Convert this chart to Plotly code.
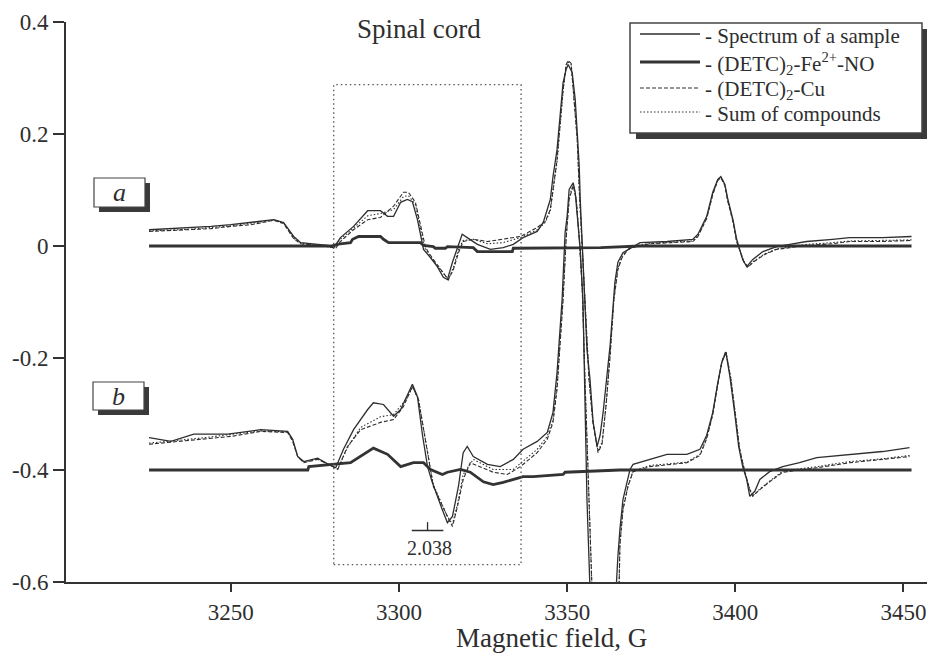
import plotly.graph_objects as go

# ---------------- data ----------------
# Panel a (baseline 0)
spec_a_x = [3225.7, 3232.2, 3238.1, 3244.1, 3250.0, 3255.9, 3259.5, 3262.8, 3265.7, 3267.2, 3268.7, 3270.8,
            3275.2, 3278.8, 3280.6, 3282.6, 3286.5, 3290.7, 3294.5, 3296.6, 3298.4, 3300.5, 3302.5, 3304.0,
            3305.5, 3306.4, 3307.3, 3309.4, 3311.4, 3313.2, 3314.4, 3315.9, 3317.4, 3318.8, 3320.3, 3323.3,
            3327.2, 3331.0, 3334.0, 3336.9, 3341.1, 3342.9, 3345.0, 3345.8, 3347.0, 3347.9, 3348.8, 3349.7,
            3350.3, 3351.5, 3352.4, 3353.0, 3353.6, 3353.9, 3354.5, 3355.3, 3355.9, 3356.8, 3357.7, 3358.9,
            3359.8, 3360.7, 3361.9, 3362.8, 3364.2, 3365.1, 3366.6, 3369.6, 3371.7, 3379.7, 3387.4, 3388.9,
            3391.5, 3393.3, 3394.8, 3395.7, 3396.9, 3397.8, 3399.3, 3400.4, 3401.0, 3402.2, 3403.4, 3405.2,
            3408.2, 3412.3, 3416.2, 3421.2, 3428.9, 3434.0, 3443.8, 3450.9, 3452.4]
spec_a_y = [0.029, 0.031, 0.033, 0.035, 0.038, 0.042, 0.044, 0.047, 0.042, 0.029, 0.017, 0.006,
            0.003, 0.001, -0.003, 0.015, 0.035, 0.063, 0.063, 0.053, 0.053, 0.078, 0.083, 0.079,
            0.047, 0.017, -0.006, -0.021, -0.037, -0.056, -0.060, -0.029, -0.001, 0.021, 0.015, 0.003,
            -0.006, -0.003, 0.003, 0.015, 0.026, 0.042, 0.083, 0.124, 0.172, 0.231, 0.292, 0.315,
            0.324, 0.310, 0.262, 0.203, 0.142, 0.083, -0.003, -0.096, -0.185, -0.238, -0.313, -0.358,
            -0.338, -0.297, -0.226, -0.176, -0.065, -0.029, -0.012, -0.001, 0.006, 0.008, 0.012, 0.021,
            0.053, 0.096, 0.119, 0.124, 0.110, 0.083, 0.047, 0.012, -0.001, -0.024, -0.037, -0.024,
            -0.010, -0.001, 0.003, 0.008, 0.012, 0.015, 0.015, 0.017, 0.017]

fe_a_x = [3225.7, 3279.7, 3282.6, 3285.6, 3286.2, 3288.0, 3294.5, 3295.4, 3296.9, 3306.4, 3307.3, 3310.2,
          3310.8, 3313.8, 3314.4, 3322.1, 3323.3, 3333.7, 3334.0, 3347.9, 3360.0, 3371.7, 3452.4]
fe_a_y = [0.0, 0.0, 0.004, 0.006, 0.012, 0.017, 0.017, 0.012, 0.006, 0.006, 0.001, -0.001,
          -0.004, -0.004, -0.001, -0.003, -0.010, -0.010, -0.004, -0.004, -0.003, 0.0, 0.0]

cu_a_x = [3225.7, 3232.2, 3238.1, 3244.1, 3250.0, 3255.9, 3259.5, 3262.8, 3265.7, 3267.2, 3268.7, 3270.8,
          3275.2, 3278.8, 3281.2, 3282.6, 3286.5, 3290.7, 3294.5, 3298.4, 3301.3, 3302.8, 3304.9, 3306.4,
          3307.9, 3310.2, 3313.2, 3314.7, 3316.2, 3317.7, 3319.1, 3322.1, 3326.3, 3331.0, 3336.1, 3341.1,
          3343.5, 3345.0, 3345.8, 3347.0, 3347.9, 3348.8, 3349.7, 3350.3, 3351.2, 3352.1, 3353.0, 3353.6,
          3354.5, 3355.3, 3356.5, 3357.7, 3359.2, 3360.4, 3361.6, 3362.8, 3363.9, 3365.1, 3366.3, 3368.1,
          3370.5, 3374.6, 3387.4, 3388.9, 3391.5, 3393.3, 3394.8, 3395.7, 3396.9, 3397.8, 3399.3, 3400.4,
          3401.3, 3402.5, 3403.7, 3405.5, 3408.8, 3412.3, 3416.2, 3421.2, 3428.9, 3434.0, 3443.8, 3450.9,
          3452.4]
cu_a_y = [0.026, 0.028, 0.029, 0.031, 0.035, 0.038, 0.042, 0.046, 0.040, 0.026, 0.013, 0.004,
          0.001, -0.001, -0.004, 0.008, 0.029, 0.047, 0.051, 0.071, 0.096, 0.096, 0.078, 0.035,
          -0.003, -0.024, -0.047, -0.060, -0.042, -0.012, 0.008, 0.012, 0.008, 0.012, 0.017, 0.033,
          0.044, 0.065, 0.101, 0.154, 0.217, 0.279, 0.324, 0.331, 0.326, 0.262, 0.190, 0.101,
          -0.003, -0.113, -0.238, -0.317, -0.369, -0.353, -0.283, -0.194, -0.096, -0.042, -0.021, -0.006,
          -0.001, 0.004, 0.008, 0.017, 0.049, 0.092, 0.117, 0.122, 0.108, 0.079, 0.044, 0.008,
          -0.006, -0.028, -0.038, -0.028, -0.015, -0.006, -0.003, 0.001, 0.004, 0.008, 0.008, 0.010,
          0.010]

sum_a_x = [3225.7, 3238.1, 3250.0, 3259.5, 3262.8, 3265.7, 3267.2, 3268.7, 3270.8, 3275.2, 3280.6, 3282.6,
           3286.5, 3290.7, 3294.5, 3298.4, 3301.3, 3302.8, 3304.9, 3306.4, 3307.6, 3309.9, 3313.2, 3314.7,
           3316.2, 3317.7, 3319.1, 3322.1, 3326.3, 3331.0, 3336.1, 3341.1, 3343.5, 3345.0, 3345.8, 3347.0,
           3347.9, 3348.8, 3349.7, 3350.3, 3351.2, 3352.1, 3353.0, 3353.6, 3354.5, 3355.3, 3356.5, 3357.7,
           3359.2, 3360.4, 3361.6, 3362.8, 3363.9, 3365.1, 3366.3, 3368.1, 3370.5, 3374.6, 3387.4, 3388.9,
           3391.5, 3393.3, 3394.8, 3395.7, 3396.9, 3397.8, 3399.3, 3400.4, 3401.3, 3402.5, 3403.7, 3405.5,
           3408.8, 3412.3, 3416.2, 3421.2, 3428.9, 3434.0, 3443.8, 3452.4]
sum_a_y = [0.027, 0.030, 0.036, 0.043, 0.046, 0.041, 0.027, 0.014, 0.005, 0.002, -0.003, 0.012,
           0.033, 0.054, 0.058, 0.065, 0.088, 0.090, 0.074, 0.033, -0.003, -0.024, -0.049, -0.060,
           -0.038, -0.006, 0.010, 0.012, 0.004, 0.006, 0.015, 0.029, 0.042, 0.063, 0.098, 0.150,
           0.214, 0.276, 0.322, 0.329, 0.324, 0.262, 0.192, 0.101, -0.003, -0.110, -0.236, -0.315,
           -0.366, -0.350, -0.283, -0.192, -0.094, -0.040, -0.019, -0.005, 0.000, 0.005, 0.009, 0.018,
           0.050, 0.093, 0.118, 0.123, 0.109, 0.080, 0.045, 0.009, -0.005, -0.027, -0.037, -0.027,
           -0.014, -0.005, -0.002, 0.003, 0.006, 0.009, 0.010, 0.011]

# Panel b (baseline -0.4)
spec_b_x = [3225.7, 3232.2, 3239.0, 3249.1, 3258.9, 3266.9, 3268.4, 3269.9, 3271.7, 3275.8, 3279.7, 3281.2,
            3283.5, 3286.5, 3290.7, 3292.4, 3295.4, 3298.4, 3300.5, 3302.5, 3304.0, 3305.5, 3307.0, 3308.5,
            3309.9, 3312.9, 3314.4, 3315.9, 3317.7, 3319.1, 3320.3, 3322.1, 3326.3, 3330.1, 3334.0, 3336.9,
            3341.1, 3344.1, 3345.8, 3347.0, 3347.9, 3348.5, 3349.4, 3350.0, 3350.6, 3351.8, 3352.4, 3353.0,
            3353.9, 3354.7, 3355.3, 3355.9, 3356.8, 3359.0, 3363.0, 3364.5, 3365.1, 3365.7, 3366.6, 3367.8,
            3368.7, 3369.6, 3374.6, 3379.7, 3385.6, 3389.5, 3391.5, 3393.3, 3394.8, 3396.0, 3397.2, 3398.4,
            3399.8, 3401.0, 3402.2, 3403.4, 3404.3, 3405.8, 3407.3, 3410.2, 3414.1, 3419.1, 3424.2, 3434.0,
            3443.8, 3451.8]
spec_b_y = [-0.342, -0.349, -0.336, -0.336, -0.328, -0.331, -0.345, -0.376, -0.385, -0.379, -0.392, -0.396,
            -0.363, -0.328, -0.292, -0.280, -0.283, -0.304, -0.292, -0.265, -0.247, -0.269, -0.338, -0.394,
            -0.422, -0.471, -0.494, -0.483, -0.429, -0.369, -0.358, -0.376, -0.390, -0.394, -0.381, -0.363,
            -0.349, -0.333, -0.297, -0.226, -0.149, -0.096, 0.024, 0.053, 0.101, 0.113, 0.096, 0.053,
            -0.006, -0.096, -0.274, -0.453, -0.613, -0.950, -0.950, -0.620, -0.554, -0.506, -0.453, -0.422,
            -0.399, -0.390, -0.381, -0.372, -0.372, -0.363, -0.338, -0.297, -0.244, -0.208, -0.190, -0.233,
            -0.297, -0.358, -0.394, -0.417, -0.447, -0.438, -0.417, -0.403, -0.394, -0.387, -0.378, -0.372,
            -0.367, -0.360]

fe_b_x = [3225.7, 3272.9, 3273.2, 3281.8, 3285.6, 3292.4, 3296.6, 3300.5, 3304.3, 3307.3, 3309.4, 3312.9,
          3314.4, 3318.3, 3321.2, 3325.1, 3328.0, 3331.0, 3334.0, 3336.9, 3339.9, 3348.8, 3349.4, 3358.9,
          3365.7, 3452.4]
fe_b_y = [-0.400, -0.400, -0.394, -0.390, -0.387, -0.361, -0.372, -0.394, -0.387, -0.387, -0.399, -0.408,
          -0.404, -0.399, -0.404, -0.421, -0.426, -0.422, -0.417, -0.412, -0.412, -0.408, -0.404, -0.401,
          -0.400, -0.400]

cu_b_x = [3225.7, 3234.3, 3241.1, 3250.0, 3258.9, 3266.9, 3268.4, 3269.9, 3271.7, 3275.8, 3279.7, 3281.8,
          3284.7, 3288.6, 3294.5, 3298.4, 3301.3, 3304.0, 3305.8, 3307.9, 3310.2, 3314.4, 3315.9, 3317.4,
          3319.1, 3321.2, 3324.2, 3328.0, 3332.2, 3336.1, 3341.1, 3344.1, 3345.8, 3347.0, 3347.9, 3348.8,
          3349.7, 3350.6, 3351.8, 3352.7, 3353.6, 3354.5, 3355.3, 3356.2, 3357.4, 3360.0, 3364.0, 3365.4,
          3365.7, 3366.6, 3368.1, 3369.6, 3374.6, 3385.6, 3389.5, 3391.5, 3393.3, 3394.8, 3396.0, 3397.2,
          3398.7, 3400.1, 3401.3, 3402.8, 3404.3, 3405.2, 3407.3, 3410.2, 3414.1, 3424.2, 3434.0, 3443.8,
          3451.8]
cu_b_y = [-0.354, -0.349, -0.345, -0.340, -0.331, -0.333, -0.349, -0.376, -0.387, -0.381, -0.392, -0.399,
          -0.358, -0.328, -0.315, -0.310, -0.287, -0.251, -0.274, -0.345, -0.429, -0.483, -0.501, -0.465,
          -0.417, -0.387, -0.394, -0.404, -0.408, -0.394, -0.369, -0.345, -0.315, -0.256, -0.176, -0.096,
          0.012, 0.083, 0.108, 0.083, 0.012, -0.078, -0.238, -0.417, -0.613, -0.950, -0.950, -0.620,
          -0.533, -0.471, -0.429, -0.403, -0.394, -0.387, -0.374, -0.344, -0.301, -0.247, -0.206, -0.188,
          -0.238, -0.305, -0.363, -0.403, -0.435, -0.447, -0.435, -0.421, -0.404, -0.396, -0.387, -0.381,
          -0.376]

sum_b_x = [3225.7, 3241.1, 3258.9, 3266.9, 3268.4, 3269.9, 3271.7, 3275.8, 3279.7, 3281.8, 3284.7, 3288.6,
           3294.5, 3298.4, 3302.5, 3304.0, 3305.8, 3307.9, 3310.2, 3314.4, 3315.9, 3317.4, 3319.1, 3322.1,
           3328.0, 3334.0, 3341.1, 3344.1, 3345.8, 3347.0, 3347.9, 3348.8, 3349.7, 3350.6, 3351.8, 3352.7,
           3353.6, 3354.5, 3355.3, 3356.2, 3357.4, 3360.0, 3364.0, 3365.4, 3365.7, 3366.6, 3368.1, 3369.6,
           3374.6, 3385.6, 3389.5, 3391.5, 3393.3, 3394.8, 3396.0, 3397.2, 3398.7, 3400.1, 3401.3, 3402.8,
           3404.3, 3405.2, 3407.3, 3410.2, 3414.1, 3424.2, 3434.0, 3443.8, 3451.8]
sum_b_y = [-0.352, -0.343, -0.330, -0.332, -0.347, -0.376, -0.386, -0.380, -0.392, -0.398, -0.360, -0.324,
           -0.305, -0.301, -0.271, -0.251, -0.274, -0.345, -0.426, -0.483, -0.497, -0.461, -0.408, -0.381,
           -0.399, -0.399, -0.363, -0.340, -0.310, -0.250, -0.170, -0.092, 0.015, 0.086, 0.110, 0.085,
           0.014, -0.076, -0.236, -0.415, -0.613, -0.950, -0.950, -0.620, -0.533, -0.470, -0.428, -0.402,
           -0.392, -0.386, -0.372, -0.342, -0.300, -0.246, -0.206, -0.188, -0.237, -0.304, -0.362, -0.402,
           -0.434, -0.446, -0.434, -0.420, -0.402, -0.394, -0.385, -0.380, -0.374]

x_ticks = [3250, 3300, 3350, 3400, 3450]
x_tick_text = ["3250", "3300", "3350", "3400", "3450"]
y_ticks = [-0.6, -0.4, -0.2, 0, 0.2, 0.4]
y_tick_text = ["-0.6", "-0.4", "-0.2", "0", "0.2", "0.4"]

legend_names = ["Spectrum of a sample",
                "(DETC)<sub>2</sub>-Fe<sup>2+</sup>-NO",
                "(DETC)<sub>2</sub>-Cu",
                "Sum of compounds"]

marker_x = 3308.5      # g = 2.038 position
marker_y = -0.508
marker_label = "2.038"
box_x = [3280.6, 3336.3]
box_y = [-0.569, 0.288]

# ---------------- styles ----------------
INK = "#2e2e2e"
FONT = "Liberation Serif"
W, H = 929, 653
ML, MR, MT, MB = 66, 2, 22, 71
PW, PH = W - ML - MR, H - MT - MB

def px(x):  # pixel -> paper x
    return (x - ML) / PW

def py(y):  # pixel -> paper y
    return (H - MB - y) / PH

styles = [dict(width=1.3, color=INK, dash="solid"),
          dict(width=2.8, color="#333333", dash="solid"),
          dict(width=1.1, color=INK, dash="4px,2px"),
          dict(width=1.1, color=INK, dash="1.5px,2px")]

fig = go.Figure()
series = [
    (spec_a_x, spec_a_y, 0), (fe_a_x, fe_a_y, 1), (cu_a_x, cu_a_y, 2), (sum_a_x, sum_a_y, 3),
    (spec_b_x, spec_b_y, 0), (fe_b_x, fe_b_y, 1), (cu_b_x, cu_b_y, 2), (sum_b_x, sum_b_y, 3),
]
for xs, ys, k in series:
    fig.add_trace(go.Scatter(x=xs, y=ys, mode="lines", line=styles[k],
                             name=legend_names[k], showlegend=False, hoverinfo="skip"))

shapes = []
annotations = []

# dotted region box
shapes.append(dict(type="rect", xref="x", yref="y", x0=box_x[0], x1=box_x[1], y0=box_y[0], y1=box_y[1],
                   line=dict(color="#555555", width=1.3, dash="1.5px,3px")))
# g-factor marker
shapes.append(dict(type="line", xref="x", yref="y", x0=marker_x - 4.7, x1=marker_x + 4.7,
                   y0=marker_y, y1=marker_y, line=dict(color=INK, width=1.3)))
shapes.append(dict(type="line", xref="x", yref="y", x0=marker_x, x1=marker_x,
                   y0=marker_y, y1=marker_y + 0.015, line=dict(color=INK, width=1.3)))
annotations.append(dict(x=marker_x + 0.5, y=marker_y - 0.008, xref="x", yref="y", text=marker_label,
                        showarrow=False, xanchor="center", yanchor="top",
                        font=dict(family=FONT, size=20, color=INK)))

# legend (box with drop shadow)
shapes.append(dict(type="rect", xref="paper", yref="paper", x0=px(636), x1=px(927), y0=py(139), y1=py(29),
                   fillcolor="#3a3a3a", line=dict(width=0), layer="above"))
shapes.append(dict(type="rect", xref="paper", yref="paper", x0=px(630), x1=px(922), y0=py(133), y1=py(23),
                   fillcolor="white", line=dict(color="#444444", width=1.5), layer="above"))
leg_y = [34, 62, 88, 112]
for i, yy in enumerate(leg_y):
    st = styles[i]
    shapes.append(dict(type="line", xref="paper", yref="paper", x0=px(640), x1=px(700), y0=py(yy), y1=py(yy),
                       line=dict(color=st["color"], width=st["width"], dash=st["dash"]), layer="above"))
    annotations.append(dict(x=px(703), y=py(yy + 2), xref="paper", yref="paper",
                            text="- " + legend_names[i], showarrow=False, xanchor="left", yanchor="middle",
                            font=dict(family=FONT, size=21, color=INK)))

# panel labels a / b
for lab, (x0, y0, x1, y1) in [("a", (94, 178, 145, 207)), ("b", (93, 382, 144, 410))]:
    shapes.append(dict(type="rect", xref="paper", yref="paper", x0=px(x0 + 5), x1=px(x1 + 5),
                       y0=py(y1 + 5), y1=py(y0 + 5), fillcolor="#3a3a3a", line=dict(width=0), layer="above"))
    shapes.append(dict(type="rect", xref="paper", yref="paper", x0=px(x0), x1=px(x1), y0=py(y1), y1=py(y0),
                       fillcolor="white", line=dict(color="#444444", width=1.2), layer="above"))
    annotations.append(dict(x=px((x0 + x1) / 2), y=py((y0 + y1) / 2), xref="paper", yref="paper",
                            text="<i>" + lab + "</i>", showarrow=False, xanchor="center", yanchor="middle",
                            font=dict(family=FONT, size=26, color=INK)))

# title and axis title
annotations.append(dict(x=px(419), y=py(29), xref="paper", yref="paper", text="Spinal cord",
                        showarrow=False, xanchor="center", yanchor="middle",
                        font=dict(family=FONT, size=27, color=INK)))
annotations.append(dict(x=px(551), y=py(638), xref="paper", yref="paper", text="Magnetic field, G",
                        showarrow=False, xanchor="center", yanchor="middle",
                        font=dict(family=FONT, size=27, color=INK)))

axis_common = dict(showgrid=False, zeroline=False, showline=True, linecolor="#333333", linewidth=2,
                   ticks="outside", tickwidth=1.5, tickcolor="#333333",
                   tickfont=dict(family=FONT, size=23, color=INK))

fig.update_layout(
    template="none",
    width=W, height=H, margin=dict(l=ML, r=MR, t=MT, b=MB, pad=0),
    paper_bgcolor="white", plot_bgcolor="white",
    showlegend=False, shapes=shapes, annotations=annotations,
    font=dict(family=FONT, size=23, color=INK),
    xaxis=dict(range=[3201, 3457], ticklen=8, tickmode="array", tickvals=x_ticks, ticktext=x_tick_text,
               **axis_common),
    yaxis=dict(range=[-0.6, 0.4], ticklen=11, tickmode="array", tickvals=y_ticks, ticktext=y_tick_text,
               **axis_common),
)

fig.write_html("out.html", config={"displayModeBar": False},
               post_script="document.body.style.margin='0';document.body.style.overflow='hidden';")
